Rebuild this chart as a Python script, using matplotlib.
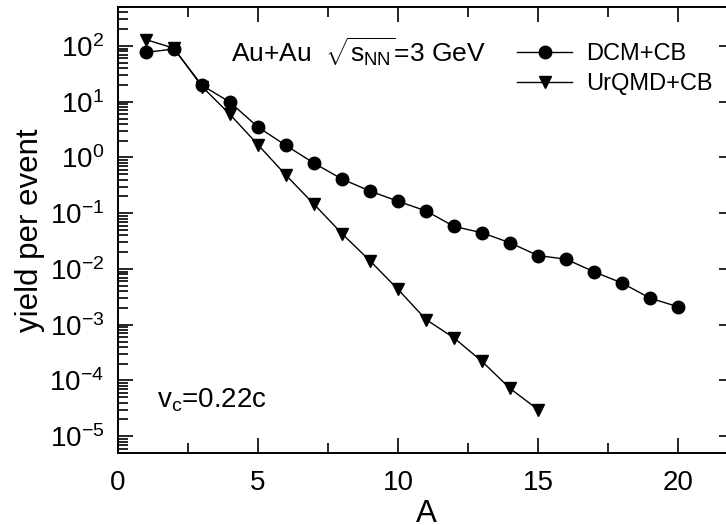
import matplotlib
matplotlib.use("Agg")
import matplotlib.pyplot as plt
from matplotlib.ticker import LogLocator, MultipleLocator, NullFormatter

plt.rcParams['font.family'] = ['Liberation Sans', 'DejaVu Sans']
plt.rcParams['mathtext.fontset'] = 'custom'
plt.rcParams['mathtext.rm'] = 'Liberation Sans'
plt.rcParams['mathtext.it'] = 'Liberation Sans'

A_dcm = list(range(1, 21))
y_dcm = [77, 88, 19.7, 9.8, 3.5, 1.64, 0.79, 0.41, 0.25, 0.164,
         0.11, 0.058, 0.0446, 0.0295, 0.0174, 0.015, 0.0089, 0.0056, 0.0030, 0.0021]

A_urqmd = list(range(1, 16))
y_urqmd = [130, 91, 18.7, 5.9, 1.69, 0.48, 0.145, 0.043, 0.0140, 0.0043,
           0.00124, 0.00058, 0.00022, 7.2e-5, 3.0e-5]

fig = plt.figure(figsize=(7.26, 5.25), dpi=100)
ax = fig.add_axes([118/726, 72/525, 616/726, 446/525])

ax.plot(A_dcm, y_dcm, color='black', lw=1, marker='o', markersize=9, label='DCM+CB')
ax.plot(A_urqmd, y_urqmd, color='black', lw=1, marker='v', markersize=9, label='UrQMD+CB')

ax.set_yscale('log')
ax.set_xlim(0, 22)
ax.set_ylim(5e-6, 500)

ax.xaxis.set_major_locator(MultipleLocator(5))
ax.xaxis.set_minor_locator(MultipleLocator(2.5))
ax.yaxis.set_major_locator(LogLocator(base=10, numticks=20))
ax.yaxis.set_minor_locator(LogLocator(base=10, subs=range(2, 10), numticks=20))
ax.yaxis.set_minor_formatter(NullFormatter())

ax.tick_params(which='major', direction='in', length=11, width=1.2, labelsize=20,
               top=True, right=True)
ax.tick_params(axis='x', which='major', pad=12)
ax.tick_params(axis='y', which='major', pad=10)
ax.tick_params(which='minor', direction='in', length=7, width=1.2, top=True, right=False)
for s in ax.spines.values():
    s.set_linewidth(1.4)

ax.set_xlabel('A', fontsize=22.5)
ax.set_ylabel('yield per event', fontsize=22.5)
ax.xaxis.set_label_coords(0.5, -0.103)
ax.yaxis.set_label_coords(-0.118, 0.5)

fig.text(231/726, 1 - 52/525, r'Au+Au  $\sqrt{s_{\mathrm{NN}}}$=3 GeV', fontsize=19, va='center')
fig.text(157/726, 1 - 400/525, r'v$_{\mathrm{c}}$=0.22c', fontsize=20, va='center')

ax.legend(loc='upper left', bbox_to_anchor=(517/726, 1 - 43/525), bbox_transform=fig.transFigure,
          frameon=False, fontsize=17, handlelength=2.33, handletextpad=0.6,
          labelspacing=0.33, borderpad=0, borderaxespad=0)

fig.savefig('out.png', dpi=100)
